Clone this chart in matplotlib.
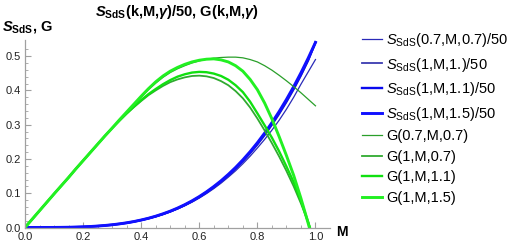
import matplotlib
matplotlib.use("Agg")
import matplotlib.pyplot as plt
import numpy as np

plt.rcParams['font.family'] = ['Liberation Sans', 'DejaVu Sans']
plt.rcParams['mathtext.fontset'] = 'custom'
plt.rcParams['mathtext.rm'] = 'Liberation Sans'
plt.rcParams['mathtext.it'] = 'Liberation Sans:italic'
plt.rcParams['mathtext.bf'] = 'Liberation Sans:bold'
plt.rcParams['mathtext.bfit'] = 'Liberation Sans:italic:bold'
plt.rcParams['mathtext.sf'] = 'Liberation Sans'

# M samples
M = [0, 0.025, 0.05, 0.075, 0.1, 0.125, 0.15, 0.175, 0.2, 0.225, 0.25, 0.275,
     0.3, 0.325, 0.35, 0.375, 0.4, 0.425, 0.45, 0.475, 0.5, 0.525, 0.55, 0.575,
     0.6, 0.625, 0.65, 0.675, 0.7, 0.725, 0.75, 0.775, 0.8, 0.825, 0.85, 0.875,
     0.9, 0.925, 0.95, 0.975, 1.0]

# S_SdS(k,M,gamma)/50
s_07_07 = [0, 0, 0, 0.00005, 0.00016, 0.0004, 0.0007, 0.0012, 0.0018, 0.0027,
           0.004, 0.0055, 0.0076, 0.0101, 0.013, 0.0165, 0.0208, 0.0257, 0.0314,
           0.0379, 0.0453, 0.0538, 0.0633, 0.0739, 0.0858, 0.099, 0.1135, 0.1294,
           0.147, 0.1655, 0.186, 0.208, 0.232, 0.257, 0.284, 0.313, 0.345, 0.38,
           0.418, 0.454, 0.49]
s_1_10 = [0, 0, 0.00002, 0.00007, 0.00017, 0.0004, 0.0007, 0.0012, 0.0019, 0.0028,
          0.0041, 0.0058, 0.0078, 0.0103, 0.0134, 0.017, 0.0214, 0.0264, 0.0322,
          0.039, 0.0466, 0.0552, 0.065, 0.0759, 0.0881, 0.1016, 0.1166, 0.133,
          0.1512, 0.1709, 0.1925, 0.2159, 0.2413, 0.2688, 0.2986, 0.3307, 0.3652,
          0.4025, 0.4428, 0.4868, 0.54]
s_1_11 = [0, 0, 0.00002, 0.00007, 0.00017, 0.0004, 0.0007, 0.0012, 0.0019, 0.0029,
          0.0042, 0.0058, 0.0079, 0.0105, 0.0135, 0.0172, 0.0216, 0.0267, 0.0326,
          0.0394, 0.0471, 0.0559, 0.0658, 0.0769, 0.0892, 0.103, 0.1182, 0.1348,
          0.1531, 0.1731, 0.1949, 0.2186, 0.2443, 0.2721, 0.3021, 0.3343, 0.369,
          0.4061, 0.446, 0.4895, 0.54]
s_1_15 = [0, 0, 0.00002, 0.00007, 0.00017, 0.0004, 0.0007, 0.0012, 0.0019, 0.0029,
          0.0042, 0.0059, 0.008, 0.0106, 0.0137, 0.0174, 0.0219, 0.027, 0.033,
          0.0399, 0.0477, 0.0566, 0.0666, 0.0778, 0.0903, 0.1042, 0.1196, 0.1364,
          0.155, 0.1752, 0.1973, 0.2213, 0.2473, 0.2754, 0.3058, 0.3384, 0.3735,
          0.411, 0.4513, 0.4942, 0.54]

# G(k,M,gamma)
g_07_07 = [0, 0.0245, 0.049, 0.0735, 0.098, 0.122, 0.146, 0.171, 0.195, 0.219,
           0.243, 0.267, 0.29, 0.313, 0.335, 0.358, 0.38, 0.402, 0.421, 0.438,
           0.452, 0.463, 0.472, 0.48, 0.486, 0.491, 0.494, 0.496, 0.497, 0.497,
           0.495, 0.49, 0.483, 0.472, 0.459, 0.444, 0.428, 0.411, 0.393, 0.374,
           0.355]
g_1_07 = [0, 0.0245, 0.049, 0.0735, 0.098, 0.122, 0.146, 0.171, 0.195, 0.219,
          0.243, 0.267, 0.29, 0.311, 0.332, 0.351, 0.369, 0.386, 0.4, 0.413,
          0.424, 0.432, 0.438, 0.442, 0.443, 0.441, 0.436, 0.427, 0.415, 0.398,
          0.377, 0.35, 0.318, 0.283, 0.246, 0.207, 0.165, 0.12, 0.07, 0.015,
          -0.045]
g_1_11 = [0, 0.0245, 0.049, 0.0735, 0.098, 0.122, 0.146, 0.171, 0.195, 0.219,
          0.243, 0.267, 0.29, 0.312, 0.333, 0.353, 0.372, 0.389, 0.404, 0.418,
          0.43, 0.44, 0.447, 0.452, 0.454, 0.453, 0.449, 0.442, 0.431, 0.415,
          0.395, 0.367, 0.333, 0.298, 0.262, 0.222, 0.178, 0.132, 0.078, 0.015,
          -0.055]
g_1_15 = [0, 0.0245, 0.049, 0.0735, 0.098, 0.122, 0.146, 0.171, 0.195, 0.219,
          0.243, 0.267, 0.29, 0.314, 0.337, 0.36, 0.383, 0.405, 0.425, 0.442,
          0.456, 0.467, 0.476, 0.483, 0.488, 0.491, 0.492, 0.489, 0.483, 0.472,
          0.456, 0.432, 0.402, 0.363, 0.317, 0.265, 0.21, 0.152, 0.085, 0.012,
          -0.065]

series = [
    (s_07_07, '#2a2ab8', 0.9, r'$S_{\mathrm{SdS}}$(0.7,M,0.7)/50'),
    (s_1_10, '#3a3ab0', 1.3, r'$S_{\mathrm{SdS}}$(1,M,1.)/50'),
    (s_1_11, '#0a0aee', 1.7, r'$S_{\mathrm{SdS}}$(1,M,1.1)/50'),
    (s_1_15, '#1010ff', 2.1, r'$S_{\mathrm{SdS}}$(1,M,1.5)/50'),
    (g_07_07, '#2a9f2a', 0.9, 'G(0.7,M,0.7)'),
    (g_1_07, '#30aa30', 1.3, 'G(1,M,0.7)'),
    (g_1_11, '#10e010', 1.7, 'G(1,M,1.1)'),
    (g_1_15, '#22f022', 2.1, 'G(1,M,1.5)'),
]

W, H = 517, 245
fig = plt.figure(figsize=(W / 100, H / 100), dpi=100)
ax = fig.add_axes([25 / W, 1 - 227.5 / H, (330 - 25) / W, (227.5 - 40) / H])

for vals, col, lw, lab in series:
    ax.plot(M, vals, color=col, lw=lw, label=lab, solid_joinstyle='round')

ax.set_xlim(0, 1.05)
ax.set_ylim(0, 0.547)
for s in ['top', 'right']:
    ax.spines[s].set_visible(False)
for s in ['left', 'bottom']:
    ax.spines[s].set_color('#a0a0a0')
    ax.spines[s].set_linewidth(0.9)

ax.set_xticks([0, 0.2, 0.4, 0.6, 0.8, 1.0])
ax.set_xticklabels(['0.0', '0.2', '0.4', '0.6', '0.8', '1.0'])
ax.set_yticks([0, 0.1, 0.2, 0.3, 0.4, 0.5])
ax.set_yticklabels(['0.0', '0.1', '0.2', '0.3', '0.4', '0.5'])
ax.set_xticks(np.arange(0, 1.05, 0.05), minor=True)
ax.set_yticks(np.arange(0, 0.54, 0.02), minor=True)
ax.tick_params(which='major', direction='in', length=4, width=0.8, color='#a0a0a0',
               labelsize=8, labelcolor='#222222', pad=3)
ax.tick_params(which='minor', direction='in', length=2, width=0.6, color='#a0a0a0')

fig.text(177 / W, 1 - 12 / H,
         r'$\mathbfit{S}_{\mathbf{SdS}}$(k,M,$\mathbfit{\gamma}$)/50, G(k,M,$\mathbfit{\gamma}$)',
         ha='center', va='center', fontsize=10.5, fontweight='bold')
fig.text(2 / W, 1 - 27 / H, r'$\mathbfit{S}_{\mathbf{SdS}}$, G',
         ha='left', va='center', fontsize=10.5, fontweight='bold')
fig.text(336 / W, 1 - 232 / H, 'M', ha='left', va='center', fontsize=10,
         fontweight='bold')

fig.legend(loc='upper left', bbox_to_anchor=(362 / W, 1 - 31 / H), frameon=False,
           fontsize=10.5, handlelength=1.35, handletextpad=0.3, labelspacing=0.45,
           borderaxespad=0, borderpad=0)

fig.savefig('out.png', dpi=100)
